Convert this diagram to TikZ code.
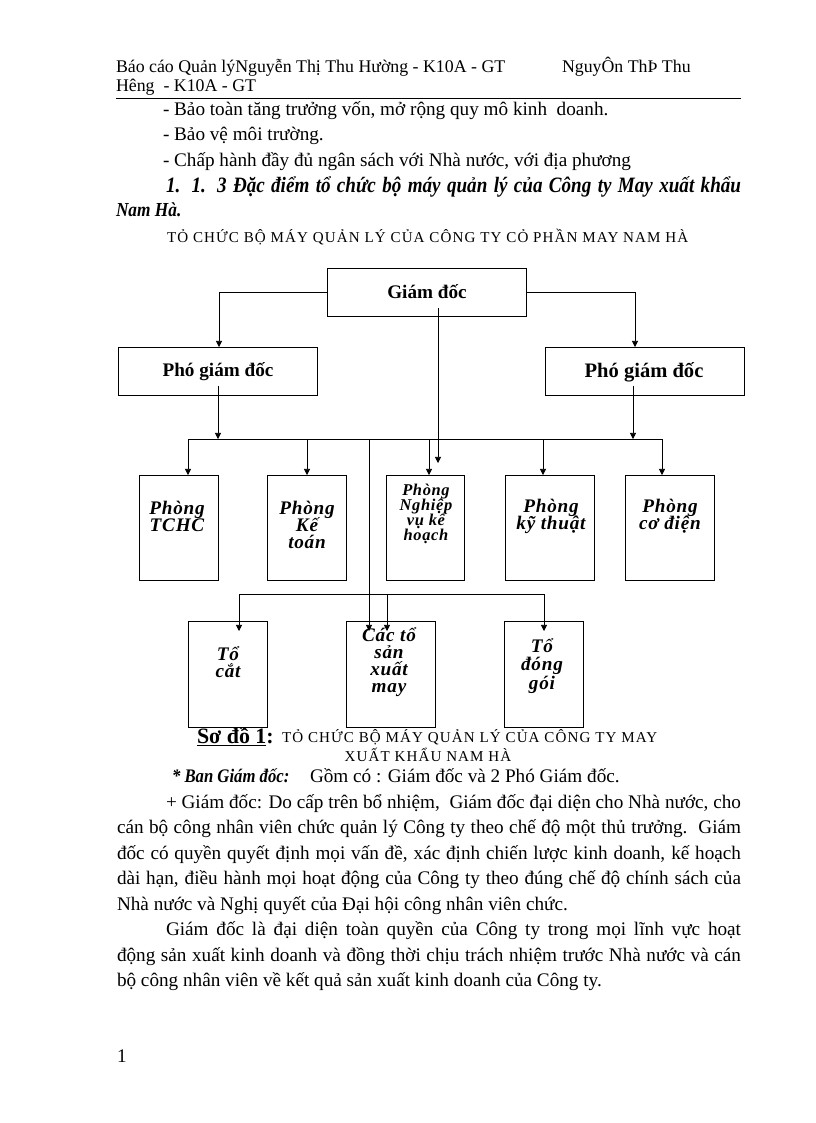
\documentclass[tikz,border=0pt]{standalone}
\usepackage{fontspec}
\setmainfont{Liberation Serif}
\newfontfamily\spf[LetterSpace=4]{Liberation Serif}
\newfontfamily\capf[LetterSpace=7.2]{Liberation Serif}
\newfontfamily\bicf[FakeStretch=0.87]{Liberation Serif}
\usetikzlibrary{arrows.meta}
\newdimen\px \px=0.7295pt
\def\pxu{0.7295pt}
\begin{document}
\lineskiplimit=-20pt
\begin{tikzpicture}[x=0.7295pt,y=-0.7295pt,
  txt/.style={anchor=base west, inner sep=0pt, outer sep=0pt, font=\fontsize{14}{16}\selectfont},
  hdr/.style={txt, font=\fontsize{13}{15}\selectfont},
  bitxt/.style={txt, font=\bicf\bfseries\itshape\fontsize{14.5}{16}\selectfont},
  capt/.style={txt, font=\capf\fontsize{11}{13}\selectfont},
  box/.style={draw, line width=0.6pt, inner sep=0pt, anchor=north west},
  lbl/.style={inner sep=0pt, align=center, font=\spf\bfseries\itshape\fontsize{14}{12.4}\selectfont},
  ttl/.style={inner sep=0pt, font=\bfseries\fontsize{14}{16}\selectfont},
  conn/.style={line width=0.6pt},
  arr/.style={conn, -{Triangle[length=4.5pt,width=4.5pt]}}]
\useasboundingbox (0,0) rectangle (816,1123);
\fill[white] (0,0) rectangle (816,1123);

% header
\node[hdr] (h1) at (116,72) {Báo cáo Quản lýNguyễn Thị Thu Hường - K10A - GT};
\node[hdr] (h1b) at (562,72) {NguyÔn ThÞ Thu};
\node[hdr] (h2) at (116,91) {Hêng\ \ - K10A - GT};
\draw[line width=0.7pt] (116,98) -- (741,98);

% top text
\node[txt] (l1) at (163,115) {- Bảo toàn tăng trưởng vốn, mở rộng quy mô kinh\ \ doanh.};
\node[txt] (l2) at (163,140) {- Bảo vệ môi trường.};
\node[txt] (l3) at (163,166) {- Chấp hành đầy đủ ngân sách với Nhà nước, với địa phương};
\node[bitxt, font=\bicf\bfseries\itshape\fontsize{16}{18}\selectfont] (l4) at (166,192) {\makebox[575\px][s]{1. 1. 3 Đặc điểm tổ chức bộ máy quản lý của Công ty May xuất khẩu}};
\node[bitxt] (l5) at (116,216) {Nam Hà.};
\node[capt] (l6) at (167,242) {TỎ CHỨC BỘ MÁY QUẢN LÝ CỦA CÔNG TY CỎ PHẦN MAY NAM HÀ};

% boxes
\node[box, minimum width=199*\pxu, minimum height=48*\pxu] (gd) at (327,268) {};
\node[box, minimum width=199*\pxu, minimum height=48*\pxu] (pgd1) at (118,347) {};
\node[box, minimum width=199*\pxu, minimum height=48*\pxu] (pgd2) at (545,347) {};
\node[box, minimum width=79*\pxu, minimum height=105*\pxu] (tchc) at (139,475) {};
\node[box, minimum width=79*\pxu, minimum height=105*\pxu] (kt) at (267,475) {};
\node[box, minimum width=78*\pxu, minimum height=105*\pxu] (nv) at (386,475) {};
\node[box, minimum width=89*\pxu, minimum height=105*\pxu] (kth) at (505,475) {};
\node[box, minimum width=89*\pxu, minimum height=105*\pxu] (cd) at (625,475) {};
\node[box, minimum width=79*\pxu, minimum height=106*\pxu] (tc) at (188,621) {};
\node[box, minimum width=89*\pxu, minimum height=106*\pxu] (ct) at (346,621) {};
\node[box, minimum width=79*\pxu, minimum height=106*\pxu] (dg) at (504,621) {};

% box texts
\node[ttl] (gdt) at (427,292) {Giám đốc};
\node[ttl] (p1t) at (218,372) {Phó giám đốc};
\node[ttl, font=\bfseries\fontsize{15}{17}\selectfont] (p2t) at (644,372) {Phó giám đốc};
\node[lbl] (tchct) at (177,516) {Phòng\\TCHC};
\node[lbl] (ktt) at (307,525) {Phòng\\Kế\\toán};
\node[lbl, font=\spf\bfseries\itshape\fontsize{12}{11}\selectfont] (nvt) at (426,514) {Phòng\\Nghiệp\\vụ kế\\hoạch};
\node[lbl] (ktht) at (551,516) {Phòng\\kỹ thuật};
\node[lbl] (cdt) at (670,516) {Phòng\\cơ điện};
\node[lbl] (tct) at (228,662) {Tổ\\cắt};
\node[lbl] (ctt) at (389,662) {Các tổ\\sản\\xuất\\may};
\node[lbl, font=\spf\bfseries\itshape\fontsize{14}{13.5}\selectfont] (dgt) at (542,666) {Tổ\\đóng\\gói};

% connectors
\draw[arr] (gd.west) -| (219,0 |- pgd1.north);
\draw[arr] (gd.east) -| (635,0 |- pgd2.north);
\coordinate (c1) at (438,308);
\coordinate (c1e) at (438,463);
\draw[arr] (c1) -- (c1e);
\coordinate (b1L) at (188,439);
\coordinate (b1R) at (662,439);
\draw[conn] (b1L) -- (b1R);
\draw[arr] (218,386) -- (218,0 |- b1L);
\draw[arr] (633,386) -- (633,0 |- b1R);
\draw[arr] (b1L) -- (b1L |- tchc.north);
\draw[arr] (307,0 |- b1L) -- (307,0 |- kt.north);
\draw[arr] (429,0 |- b1L) -- (429,0 |- nv.north);
\draw[arr] (543,0 |- b1L) -- (543,0 |- kth.north);
\draw[arr] (b1R) -- (b1R |- cd.north);
\coordinate (vend) at (369,631);
\draw[arr] (369,0 |- b1L) -- (vend);
\coordinate (b2L) at (239,594);
\coordinate (b2R) at (544,594);
\draw[conn] (b2L) -- (b2R);
\draw[arr] (b2L) -- (239,631);
\draw[arr] (387,0 |- b2L) -- (387,631);
\draw[arr] (b2R) -- (544,631);

% caption
\node[txt, font=\bfseries\fontsize{16}{18}\selectfont] (cap1) at (197,743) {\underline{Sơ đồ 1}:};
\node[capt] (cap2) at (282,742) {TỎ CHỨC BỘ MÁY QUẢN LÝ CỦA CÔNG TY MAY};
\node[capt, anchor=base] (cap3) at (428,761) {XUẤT KHẨU NAM HÀ};

\node[bitxt, font=\bicf\bfseries\itshape\fontsize{14}{16}\selectfont] (ban) at (172,782) {* Ban Giám đốc:};
\node[txt] (ban2) at (310,782) {Gồm có : Giám đốc và 2 Phó Giám đốc.};

% paragraph
\node[txt] (p1) at (166,808) {\makebox[575\px][s]{+ Giám đốc: Do cấp trên bổ nhiệm,\ \ Giám đốc đại diện cho Nhà nước, cho}};
\node[txt] (p2) at (117,833.5) {\makebox[624\px][s]{cán bộ công nhân viên chức quản lý Công ty theo chế độ một thủ trưởng.\ \ Giám}};
\node[txt] (p3) at (117,859) {\makebox[624\px][s]{đốc có quyền quyết định mọi vấn đề, xác định chiến lược kinh doanh, kế hoạch}};
\node[txt] (p4) at (117,884.5) {\makebox[624\px][s]{dài hạn, điều hành mọi hoạt động của Công ty theo đúng chế độ chính sách của}};
\node[txt] (p5) at (117,910) {Nhà nước và Nghị quyết của Đại hội công nhân viên chức.};
\node[txt] (p6) at (166,935.5) {\makebox[575\px][s]{Giám đốc là đại diện toàn quyền của Công ty trong mọi lĩnh vực hoạt}};
\node[txt] (p7) at (117,961) {\makebox[624\px][s]{động sản xuất kinh doanh và đồng thời chịu trách nhiệm trước Nhà nước và cán}};
\node[txt] (p8) at (117,986.5) {bộ công nhân viên về kết quả sản xuất kinh doanh của Công ty.};
\node[txt] (pn) at (117,1062) {1};
\end{tikzpicture}
\end{document}
